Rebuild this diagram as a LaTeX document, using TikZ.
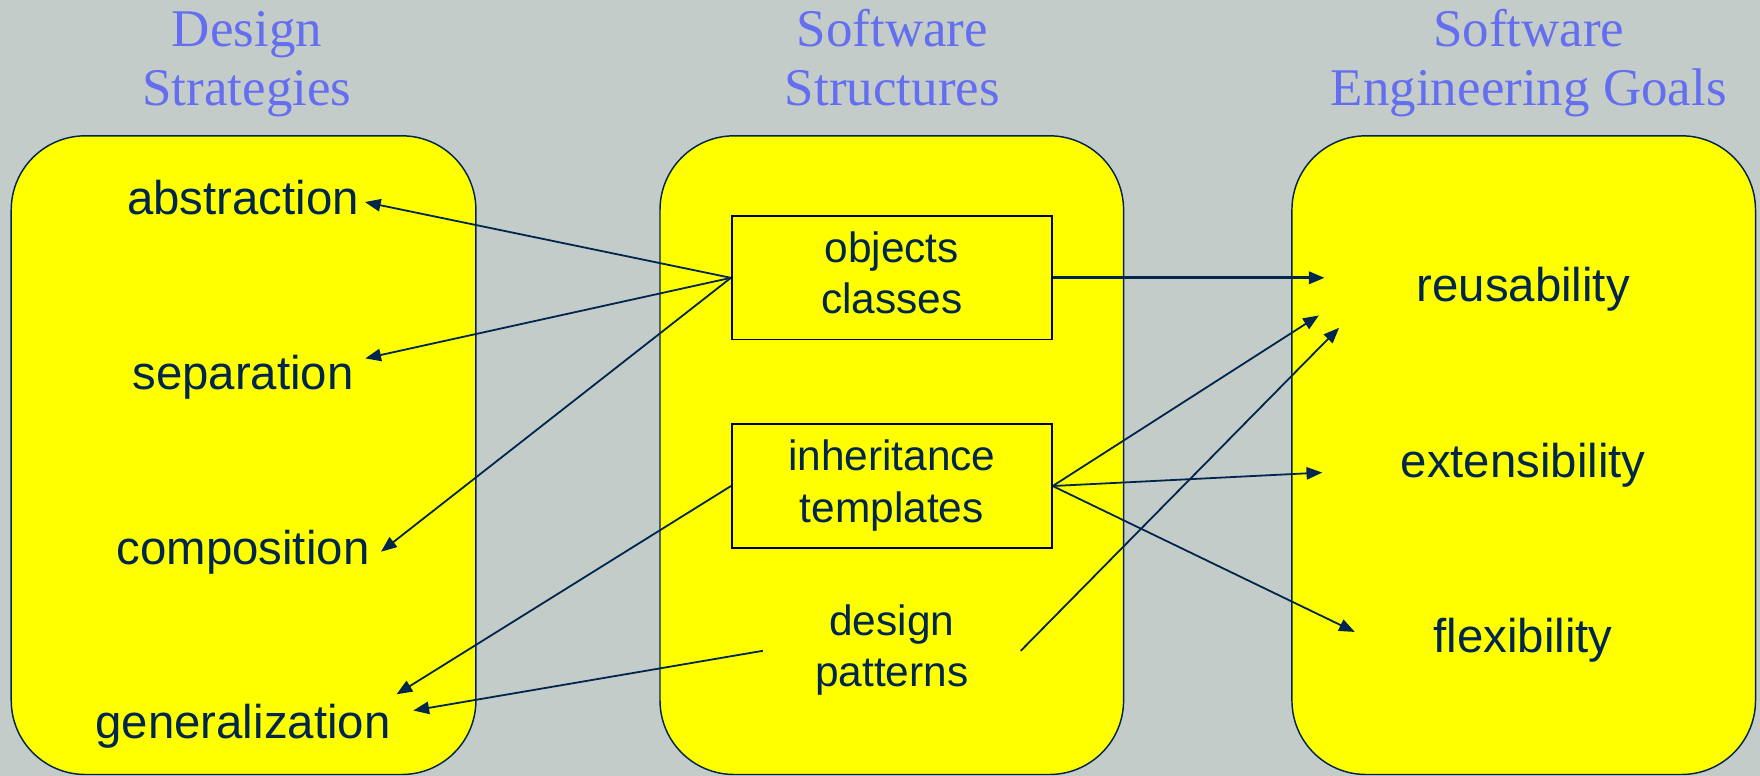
\documentclass[tikz,border=0pt]{standalone}
\usepackage{fontspec}
\setmainfont{Liberation Serif}
\setsansfont{Liberation Sans}
\usetikzlibrary{arrows.meta,calc}

\definecolor{slate}{RGB}{195,204,200}
\definecolor{panelyellow}{RGB}{255,255,0}
\definecolor{headblue}{RGB}{100,110,240}
\definecolor{ink}{RGB}{0,38,77}

\tikzset{
  panel/.style={draw=ink, fill=panelyellow, line width=0.65pt, rounded corners=33pt},
  heading/.style={text=headblue, font=\fontsize{23.6}{26.7}\selectfont\rmfamily,
    align=center, inner sep=0pt},
  item/.style={text=ink, font=\fontsize{21.1}{25}\selectfont\sffamily,
    inner xsep=2.5pt, inner ysep=0pt, text height=15pt, text depth=4pt, anchor=base},
  structbox/.style={draw=black, line width=0.8pt, fill=panelyellow,
    minimum width=142.5pt, minimum height=55pt, inner sep=0pt},
  structtext/.style={text=ink, font=\fontsize{18.9}{23}\selectfont\sffamily, align=center},
  link/.style={draw=ink, line width=0.8pt, -{Triangle[length=7pt,width=5.5pt]}},
}

\begin{document}
\begin{tikzpicture}[x=0.5pt, y=-0.5pt]
  % canvas
  \fill[slate] (0,0) rectangle (1568,691);
  \useasboundingbox (0,0) rectangle (1568,691);

  % column headings
  \node[heading] (hdesign) at (220,57) {Design\strut\\Strategies\strut};
  \node[heading] (hstruct) at (795,57) {Software\strut\\Structures\strut};
  \node[heading] (hgoals)  at (1362,57) {Software\strut\\Engineering Goals\strut};

  % the three rounded panels
  \path[panel] (10,121) rectangle (424,690);
  \path[panel] (588,121) rectangle (1001,690);
  \path[panel] (1151,121) rectangle (1564,690);

  % design strategies
  \node[item] (abs)  at (216.5,191)   {abstraction};
  \node[item] (sep)  at (216.5,346.7) {separation};
  \node[item] (comp) at (216.5,502.5) {composition};
  \node[item] (gen)  at (216.5,658)   {generalization};

  % software structures
  \node[structbox, structtext] (obj) at (794.5,247.5) {objects\strut\\classes\strut};
  \node[structbox, structtext] (inh) at (794.5,433)   {inheritance\strut\\templates\strut};
  \node[structtext, minimum width=114.5pt, inner sep=0pt] (dp) at (794.5,579.8)
       {design\strut\\patterns\strut};

  % software engineering goals
  \node[item] (reu) at (1357,269) {reusability};
  \node[item] (ext) at (1357,425) {extensibility};
  \node[item] (flx) at (1357,581) {flexibility};

  % arrow ends in front of the goals
  \coordinate (r1) at (1180,247.5);
  \coordinate (r2) at (1175,281);
  \coordinate (r3) at (1193,292);
  \coordinate (e1) at (1178,421);
  \coordinate (f1) at (1207,563);

  % structures -> strategies
  \draw[link] (obj.west) -- (abs.east);
  \draw[link] (obj.west) -- ([xshift=2.5pt,yshift=-1.5pt]sep.north east);
  \draw[link] (obj.west) -- ([xshift=2.5pt]comp.east);
  \draw[link] (inh.west) -- ([yshift=4.5pt]gen.north east);
  \draw[link] (dp.west)  -- ([xshift=7.5pt,yshift=7pt]gen.east);

  % structures -> goals
  \draw[link, line width=1.2pt] (obj.east) -- (r1);
  \draw[link] (inh.east) -- (r2);
  \draw[link] (inh.east) -- (e1);
  \draw[link] (inh.east) -- (f1);
  \draw[link] (dp.east)  -- (r3);
\end{tikzpicture}
\end{document}
